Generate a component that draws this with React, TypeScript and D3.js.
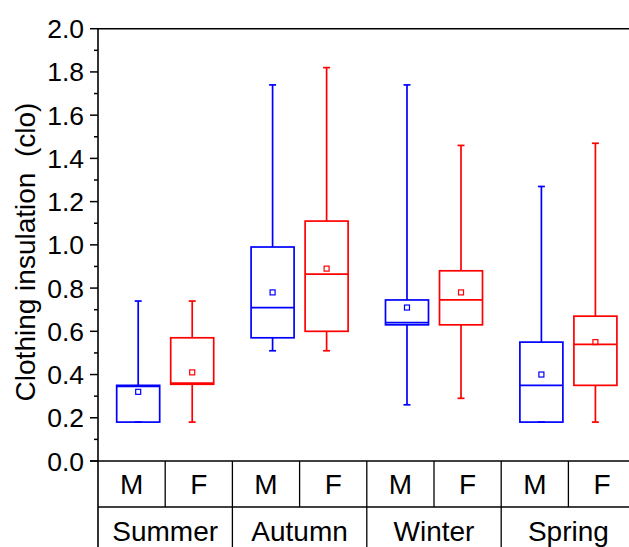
import React from "react";
import * as d3 from "d3";

// Clothing insulation (clo) by season and sex: box statistics per group
const seasons = ["Summer", "Autumn", "Winter", "Spring"];
const sexes = ["M", "F"];
const minValues = [
  [0.18, 0.18],
  [0.51, 0.51],
  [0.26, 0.29],
  [0.18, 0.18],
];
const q1Values = [
  [0.18, 0.355],
  [0.57, 0.6],
  [0.63, 0.63],
  [0.18, 0.35],
];
const medianValues = [
  [0.345, 0.36],
  [0.71, 0.865],
  [0.64, 0.745],
  [0.35, 0.54],
];
const q3Values = [
  [0.35, 0.57],
  [0.99, 1.11],
  [0.745, 0.88],
  [0.55, 0.67],
];
const maxValues = [
  [0.74, 0.74],
  [1.74, 1.82],
  [1.74, 1.46],
  [1.27, 1.47],
];
const meanValues = [
  [0.32, 0.41],
  [0.78, 0.89],
  [0.71, 0.78],
  [0.4, 0.55],
];
const yTicks = [0, 0.2, 0.4, 0.6, 0.8, 1.0, 1.2, 1.4, 1.6, 1.8, 2.0];
const yLabel = "Clothing insulation\u00a0 (clo)";

const W = 629;
const H = 547;
const left = 98;
const right = 635.6;
const top = 28.7;
const bottom = 461;
const rowLine = 507;
const sexColor: Record<string, string> = { M: "#0000ff", F: "#ff0000" };
const font = "'Liberation Sans', Arial, sans-serif";

export default function App() {
  const y = d3.scaleLinear().domain([0, 2]).range([bottom, top]);
  const xGroup = d3.scaleBand<string>().domain(seasons).range([left, right]);
  const xSex = d3
    .scalePoint<string>()
    .domain(sexes)
    .range([0, xGroup.bandwidth()])
    .padding(0.744);
  const xCell = d3
    .scaleBand<string>()
    .domain(sexes)
    .range([0, xGroup.bandwidth()]);
  const minorTicks = d3.range(0.1, 2, 0.2);
  const boxW = 43;
  const capW = 7;

  return (
    <svg
      width={W}
      height={H}
      style={{ position: "absolute", left: 0, top: 0, background: "#fff" }}
      fontFamily={font}
    >
      {/* boxes */}
      {seasons.map((s, gi) =>
        sexes.map((sx, si) => {
          const cx = (xGroup(s) ?? 0) + (xSex(sx) ?? 0);
          const c = sexColor[sx];
          const yMin = y(minValues[gi][si]);
          const yQ1 = y(q1Values[gi][si]);
          const yMed = y(medianValues[gi][si]);
          const yQ3 = y(q3Values[gi][si]);
          const yMax = y(maxValues[gi][si]);
          const yMean = y(meanValues[gi][si]);
          return (
            <g key={s + sx} stroke={c} strokeWidth={1.7} fill="none">
              <line x1={cx} x2={cx} y1={yQ3} y2={yMax} />
              <line x1={cx} x2={cx} y1={yQ1} y2={yMin} />
              <line x1={cx - capW / 2} x2={cx + capW / 2} y1={yMax} y2={yMax} />
              <line x1={cx - capW / 2} x2={cx + capW / 2} y1={yMin} y2={yMin} />
              <rect x={cx - boxW / 2} y={yQ3} width={boxW} height={yQ1 - yQ3} />
              <line x1={cx - boxW / 2} x2={cx + boxW / 2} y1={yMed} y2={yMed} />
              <rect x={cx - 2.5} y={yMean - 2.5} width={5} height={5} strokeWidth={1.2} />
            </g>
          );
        })
      )}

      {/* frame */}
      <g stroke="#000" strokeWidth={1.6}>
        <line x1={left} x2={W} y1={top} y2={top} />
        <line x1={left} x2={left} y1={top} y2={H} />
        <line x1={left - 8} x2={W} y1={bottom} y2={bottom} />
        <line x1={left} x2={W} y1={rowLine} y2={rowLine} />
      </g>

      {/* y ticks */}
      <g stroke="#000" strokeWidth={1.5}>
        {yTicks.map((t) => (
          <line key={"M" + t} x1={left - 8} x2={left} y1={y(t)} y2={y(t)} />
        ))}
        {minorTicks.map((t) => (
          <line key={"m" + t} x1={left - 4} x2={left} y1={y(t)} y2={y(t)} />
        ))}
      </g>
      <g fontSize={26.5} textAnchor="end" fill="#000">
        {yTicks.map((t) => (
          <text key={t} x={84} y={y(t)} dy="0.36em">
            {t.toFixed(1)}
          </text>
        ))}
      </g>
      <text
        transform={`translate(35, 252) rotate(-90)`}
        textAnchor="middle"
        fontSize={28}
        fill="#000"
      >
        {yLabel}
      </text>

      {/* category table */}
      <g stroke="#000" strokeWidth={1.3}>
        {seasons.map((s) => {
          const gx = xGroup(s) ?? 0;
          const mid = gx + (xCell("F") ?? 0);
          return (
            <g key={s}>
              <line x1={mid} x2={mid} y1={bottom} y2={rowLine} />
              {gx > left && <line x1={gx} x2={gx} y1={bottom} y2={H} />}
            </g>
          );
        })}
      </g>
      <g fontSize={28} textAnchor="middle" fill="#000">
        {seasons.map((s) =>
          sexes.map((sx) => (
            <text
              key={s + sx}
              x={(xGroup(s) ?? 0) + (xCell(sx) ?? 0) + xCell.bandwidth() / 2}
              y={494}
            >
              {sx}
            </text>
          ))
        )}
        {seasons.map((s) => (
          <text key={s} x={(xGroup(s) ?? 0) + xGroup.bandwidth() / 2} y={541}>
            {s}
          </text>
        ))}
      </g>
    </svg>
  );
}
